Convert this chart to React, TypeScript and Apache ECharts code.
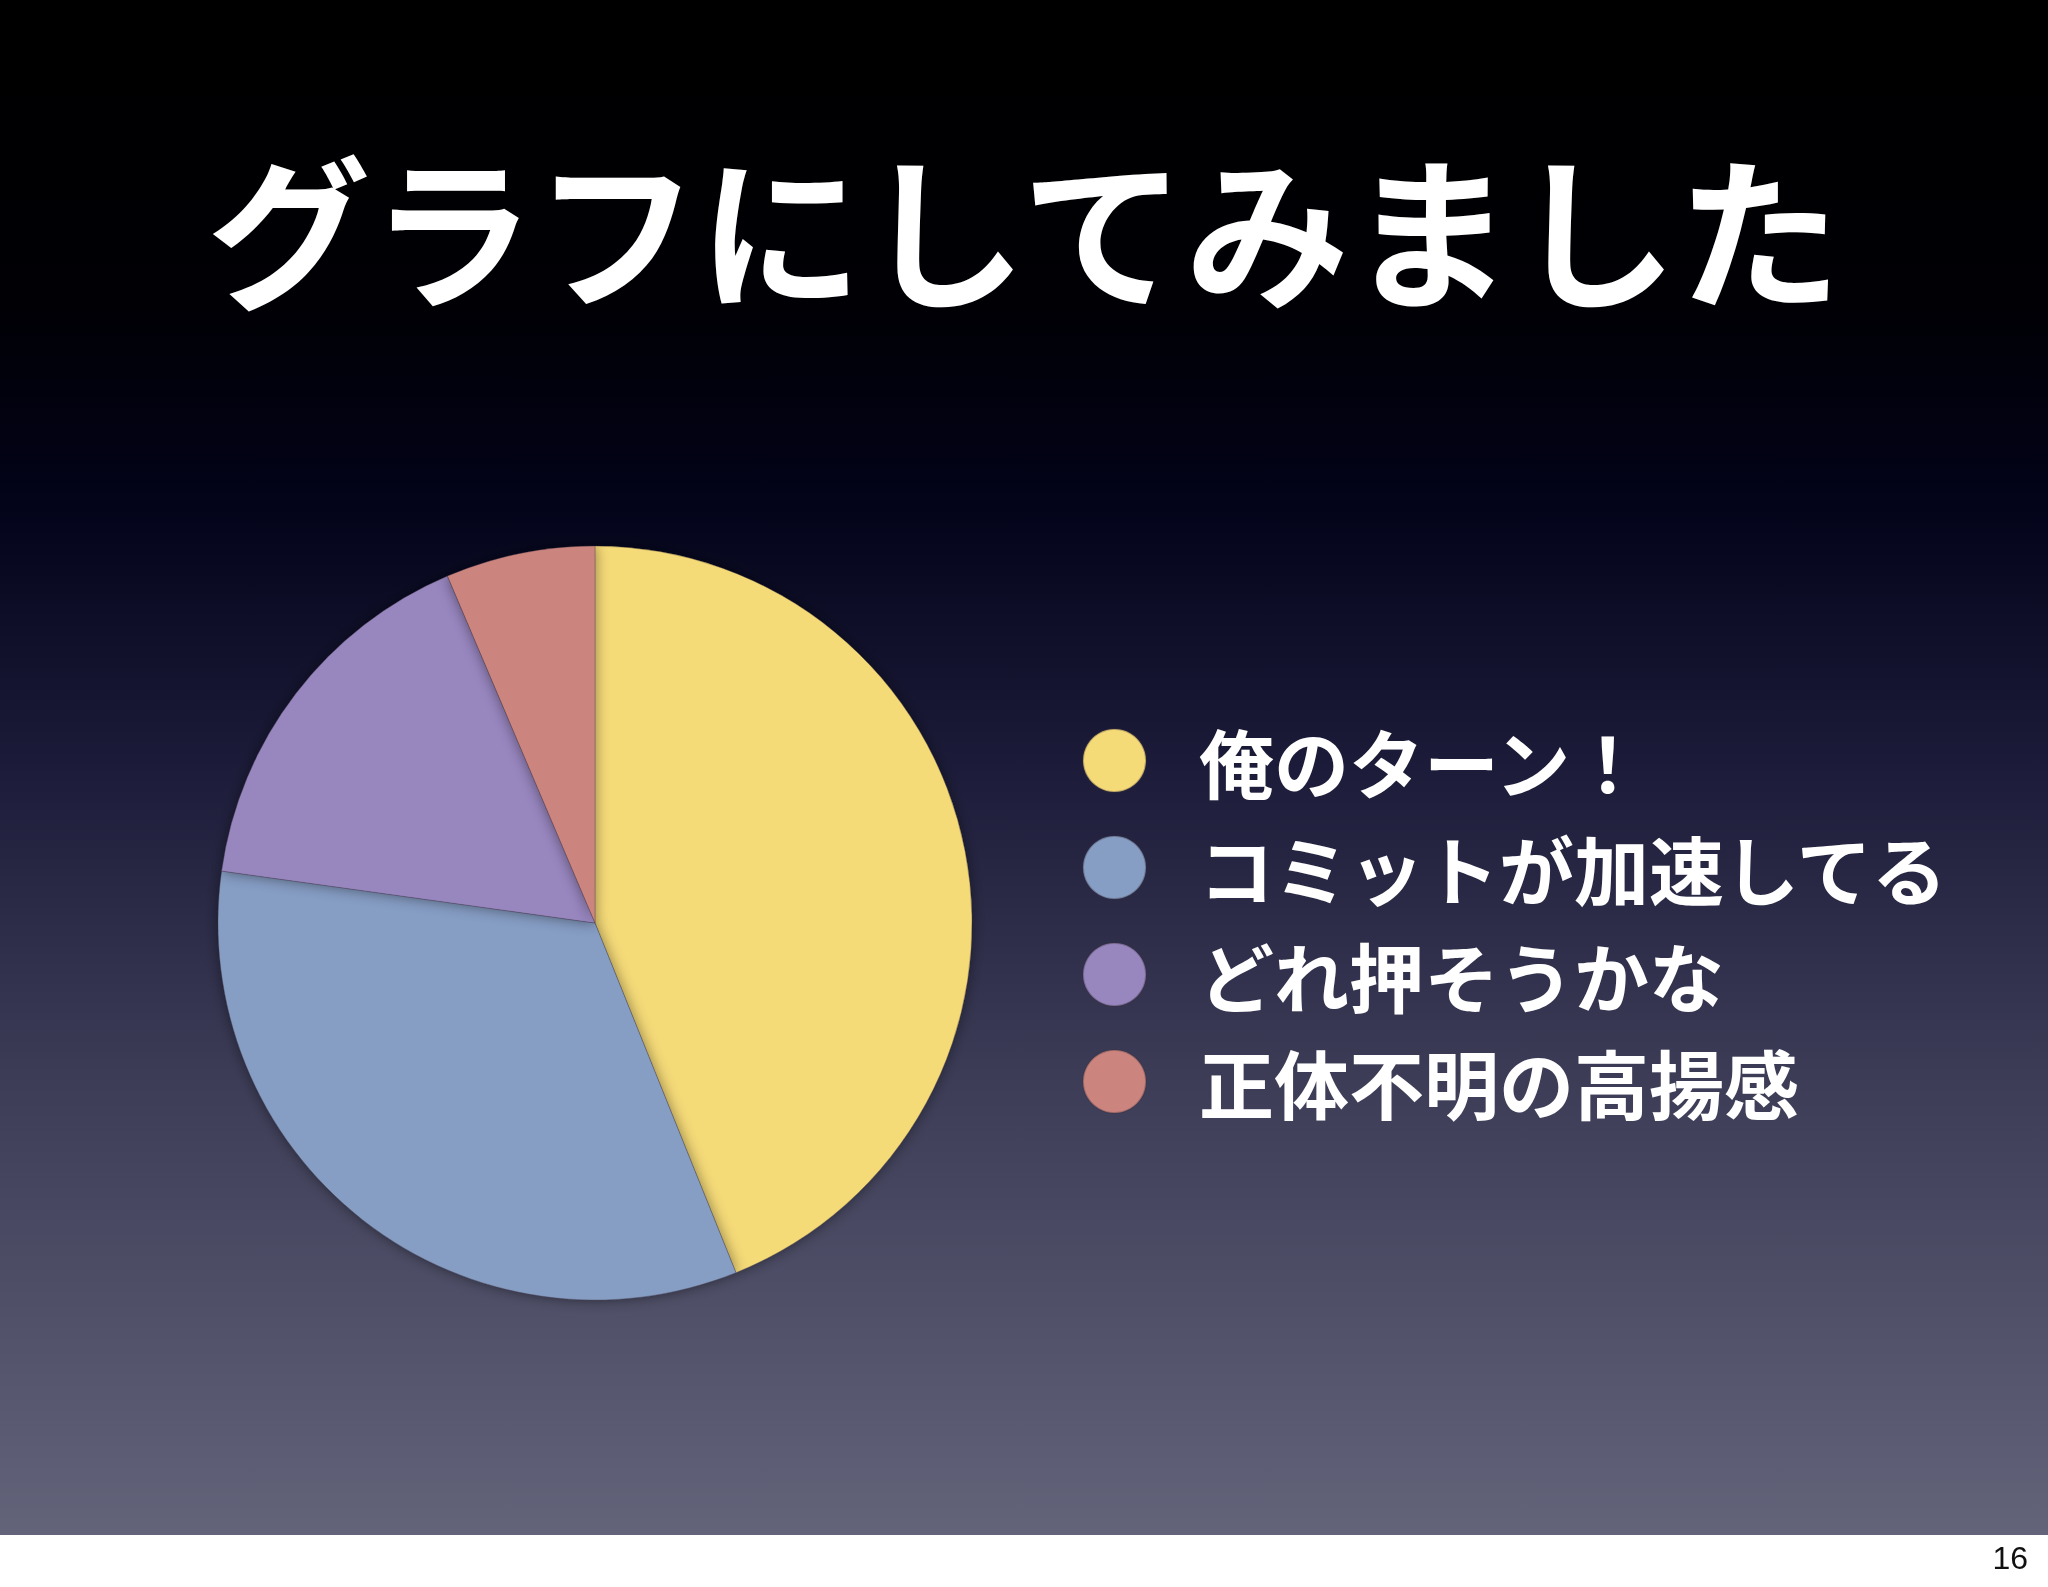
import React, { useEffect, useRef } from 'react'
import * as echarts from 'echarts'

const titleText = 'グラフにしてみました'
const pageNumber = '16'

const categories = ['俺のターン！', 'コミットが加速してる', 'どれ押そうかな', '正体不明の高揚感']
const shares = [43.9, 33.3, 16.4, 6.4]
const colors = ['#f5da78', '#869dc4', '#9886bf', '#cc847e']

const W = 2048
const H = 1587
const SLIDE_H = 1535

const App: React.FC = () => {
  const chartRef = useRef<HTMLDivElement>(null)

  useEffect(() => {
    if (!chartRef.current) return
    const chart = echarts.init(chartRef.current, null, { renderer: 'svg' })

    const data = categories.map((name, i) => ({
      name,
      value: shares[i],
      itemStyle: { color: colors[i] },
    }))

    chart.setOption({
      animation: false,
      graphic: [
        {
          type: 'rect',
          z: -10,
          shape: { x: 0, y: 0, width: W, height: SLIDE_H },
          style: {
            fill: new echarts.graphic.LinearGradient(0, 0, 0, 1, [
              { offset: 0, color: '#000000' },
              { offset: 0.2, color: '#000005' },
              { offset: 0.33, color: '#03031a' },
              { offset: 0.5, color: '#1c1c3a' },
              { offset: 0.7, color: '#3c3c57' },
              { offset: 1, color: '#63637a' },
            ]),
          },
        },
        {
          type: 'rect',
          z: -10,
          shape: { x: 0, y: SLIDE_H, width: W, height: H - SLIDE_H },
          style: { fill: '#ffffff' },
        },
        {
          type: 'text',
          x: 1024,
          y: 224,
          style: {
            text: titleText,
            fill: '#ffffff',
            font: 'bold 164px "Noto Sans CJK JP", sans-serif',
            align: 'center',
            verticalAlign: 'middle',
          },
        },
        {
          type: 'text',
          x: 2028,
          y: 1558,
          style: {
            text: pageNumber,
            fill: '#111111',
            font: '32px "Liberation Sans", Arial, sans-serif',
            align: 'right',
            verticalAlign: 'middle',
          },
        },
      ],
      legend: {
        orient: 'vertical',
        left: 1077,
        top: 718,
        itemWidth: 63,
        itemHeight: 63,
        itemGap: 32,
        icon: 'circle',
        selectedMode: false,
        data: categories,
        textStyle: {
          color: '#ffffff',
          fontSize: 75,
          fontWeight: 'bold',
          fontFamily: '"Noto Sans CJK JP", sans-serif',
          padding: [0, 0, 0, 48],
        },
      },
      series: [
        {
          type: 'pie',
          center: [595, 923],
          radius: 377,
          startAngle: 90,
          clockwise: true,
          label: { show: false },
          labelLine: { show: false },
          emphasis: { disabled: true },
          itemStyle: {
            borderWidth: 1,
            borderColor: 'rgba(60,50,60,0.3)',
            shadowBlur: 14,
            shadowColor: 'rgba(0,0,0,0.45)',
          },
          data,
        },
      ],
    })

    return () => {
      chart.dispose()
    }
  }, [])

  return (
    <div
      ref={chartRef}
      style={{ position: 'fixed', left: 0, top: 0, width: W, height: H }}
    />
  )
}

export default App
